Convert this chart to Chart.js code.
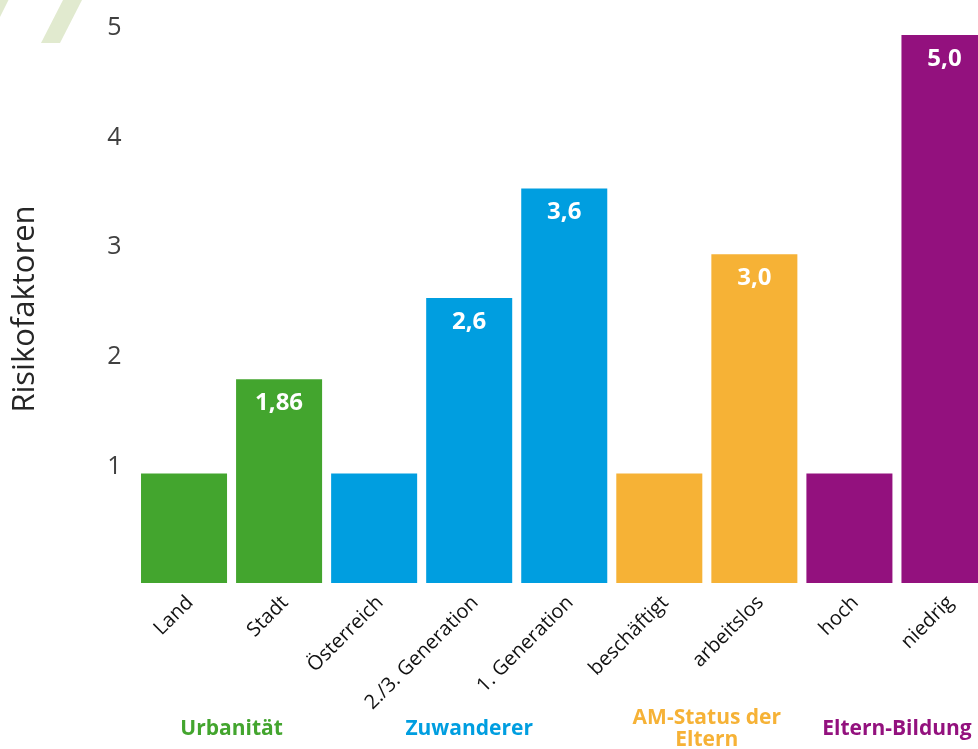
<!DOCTYPE html>
<html lang="de">
<head>
<meta charset="utf-8">
<title>Risikofaktoren</title>
<script src="https://cdn.jsdelivr.net/npm/chart.js@4"></script>
<style>
  html, body { margin: 0; padding: 0; background: #ffffff; overflow: hidden; }
  #contenedorGrafico { position: absolute; left: 0; top: 0; width: 992px; height: 749px; }
</style>
</head>
<body>
<div id="contenedorGrafico"><canvas id="graficoRisiko"></canvas></div>
<script>
const kategorien = ["Land", "Stadt", "Österreich", "2./3. Generation", "1. Generation", "beschäftigt", "arbeitslos", "hoch", "niedrig"];
const risikowerte = [1, 1.86, 1, 2.6, 3.6, 1, 3.0, 1, 5.0];
const wertBeschriftung = ["", "1,86", "", "2,6", "3,6", "", "3,0", "", "5,0"];
const yTickWerte = [1, 2, 3, 4, 5];
const gruppenNamen = [["Urbanität"], ["Zuwanderer"], ["AM-Status der", "Eltern"], ["Eltern-Bildung"]];
const gruppenVon = [0, 2, 5, 7];
const gruppenBis = [1, 4, 6, 8];

const gruen = "#43a52e";
const blau = "#009ee0";
const orange = "#f6b236";
const lila = "#93117e";
const gruppenFarben = [gruen, blau, orange, lila];
const balkenFarben = [gruen, gruen, blau, blau, blau, orange, orange, lila, lila];

const schrift = "'Open Sans', 'Noto Sans', sans-serif";
/////////////////////////////////////////////////////////////////////////////////////
// hellgruene Schraegstriche oben links
const dekoPlugin = {
  id: "deko",
  beforeDraw(chart) {
    const ctx = chart.ctx;
    ctx.save();
    ctx.fillStyle = "#e1eacf";
    ctx.beginPath();
    ctx.moveTo(0, 0);
    ctx.lineTo(8.5, 0);
    ctx.lineTo(0, 17);
    ctx.closePath();
    ctx.fill();
    ctx.beginPath();
    ctx.moveTo(63, 0);
    ctx.lineTo(82, 0);
    ctx.lineTo(60, 43);
    ctx.lineTo(41, 43);
    ctx.closePath();
    ctx.fill();
    ctx.restore();
  },
};

// Werte in den Balken + Gruppennamen unter der Achse
const beschriftungPlugin = {
  id: "beschriftung",
  afterDraw(chart) {
    const ctx = chart.ctx;
    const meta = chart.getDatasetMeta(0);
    ctx.save();
    ctx.textAlign = "center";
    ctx.textBaseline = "middle";
    ctx.fillStyle = "#ffffff";
    ctx.font = "bold 24px " + schrift;
    meta.data.forEach((balken, i) => {
      if (wertBeschriftung[i]) {
        ctx.fillText(wertBeschriftung[i], balken.x, balken.y + 24);
      }
    });

    const xAchse = chart.scales.x;
    ctx.font = "bold 21px " + schrift;
    gruppenNamen.forEach((zeilen, g) => {
      const mitte = (xAchse.getPixelForValue(gruppenVon[g]) + xAchse.getPixelForValue(gruppenBis[g])) / 2;
      ctx.fillStyle = gruppenFarben[g];
      const startY = 729 - (zeilen.length - 1) * 11;
      zeilen.forEach((zeile, z) => {
        ctx.fillText(zeile, mitte, startY + z * 22);
      });
    });
    ctx.restore();
  },
};

const config = {
  type: "bar",
  data: {
    labels: kategorien,
    datasets: [
      {
        label: "Risikofaktoren",
        data: risikowerte,
        backgroundColor: balkenFarben,
        borderWidth: 0,
        categoryPercentage: 1,
        barPercentage: 0.905,
      },
    ],
  },
  options: {
    responsive: true,
    maintainAspectRatio: false,
    animation: false,
    layout: { padding: { top: 35, right: 0, left: 0, bottom: 0 } },
    plugins: {
      legend: { display: false },
      tooltip: { enabled: false },
    },
    scales: {
      x: {
        grid: { display: false, drawTicks: false },
        border: { display: false },
        ticks: {
          color: "#111111",
          font: { family: schrift, size: 20 },
          minRotation: 45,
          maxRotation: 45,
          autoSkip: false,
          padding: 8,
          labelOffset: 6,
        },
        afterFit(scale) {
          scale.height = 166;
        },
      },
      y: {
        min: 0,
        max: 5,
        grid: { display: false, drawTicks: false },
        border: { display: false },
        title: {
          display: true,
          text: "Risikofaktoren",
          color: "#262626",
          font: { family: schrift, size: 31 },
          padding: { top: 7, bottom: 0 },
        },
        ticks: {
          color: "#404040",
          font: { family: schrift, size: 25 },
          padding: 15,
          labelOffset: -7,
        },
        afterBuildTicks(scale) {
          scale.ticks = yTickWerte.map((v) => ({ value: v }));
        },
        afterFit(scale) {
          scale.width = 136.5;
        },
      },
    },
  },
  plugins: [dekoPlugin, beschriftungPlugin],
};

new Chart(document.getElementById("graficoRisiko"), config);
</script>
</body>
</html>
